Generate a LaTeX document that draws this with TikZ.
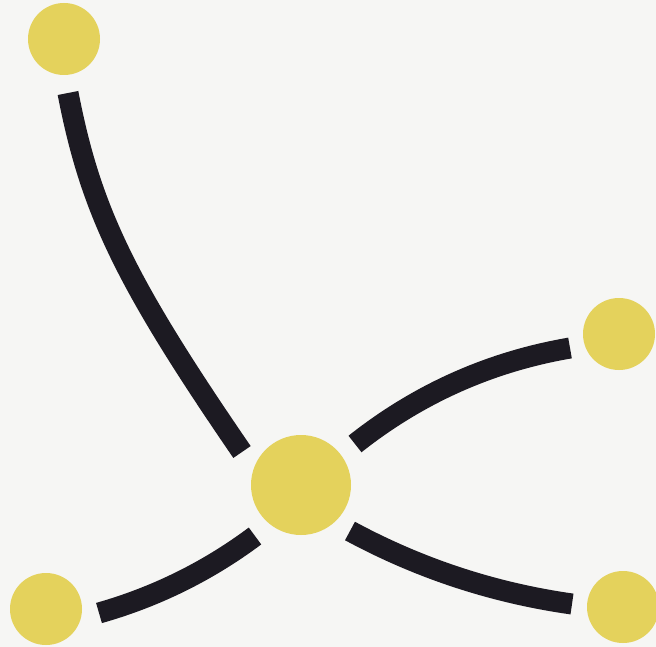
\documentclass[tikz,border=0pt]{standalone}
\definecolor{bg}{RGB}{246,246,244}
\definecolor{dotyellow}{RGB}{228,210,92}
\definecolor{barblack}{RGB}{28,26,34}
\tikzset{
  dot/.style={circle, fill=dotyellow, draw=none, inner sep=0pt, minimum size=72pt},
  hub/.style={circle, fill=dotyellow, draw=none, inner sep=0pt, minimum size=100pt},
  bar/.style={draw=barblack, line width=21pt, line cap=butt}
}
\begin{document}
\begin{tikzpicture}[x=1pt,y=-1pt]
\useasboundingbox (0,0) rectangle (656,647);
\fill[bg] (0,0) rectangle (656,647);
\node[dot] (tl) at (64,39) {};
\node[dot] (r) at (619,334) {};
\node[hub] (c) at (301,485) {};
\node[dot] (bl) at (46,609) {};
\node[dot] (br) at (623,607) {};
% connector ends
\coordinate (tlA) at (68,93);
\coordinate (tlB) at (242,452);
\coordinate (rA) at (355,444);
\coordinate (rB) at (570,348);
\coordinate (blA) at (99,613);
\coordinate (blB) at (255,536);
\coordinate (brA) at (350,531);
\coordinate (brB) at (572,604);
\draw[bar] (tlA) .. controls (90.6,210.3) and (125.4,282.1) .. (tlB);
\draw[bar] (rA) .. controls (418.5,393.7) and (490.2,361.7) .. (rB);
\draw[bar] (blA) .. controls (155.7,596.9) and (207.7,571.3) .. (blB);
\draw[bar] (brA) .. controls (419.6,568.6) and (493.6,592.9) .. (brB);
\end{tikzpicture}
\end{document}
